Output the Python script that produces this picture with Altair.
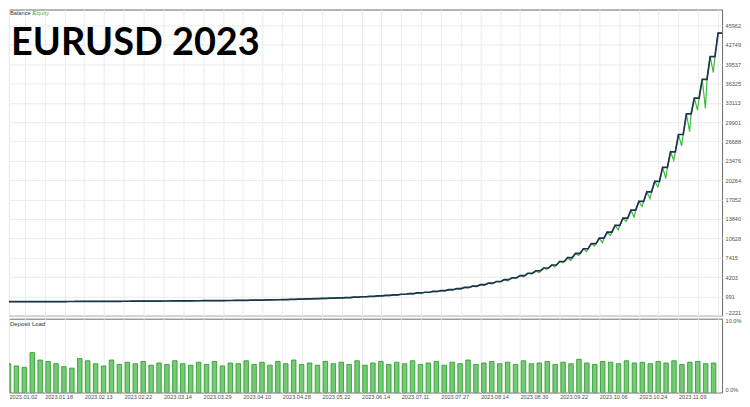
import altair as alt
import pandas as pd

title_text = "EURUSD 2023"
legend_balance = "Balance /"
legend_equity = "Equity"
load_title = "Deposit Load"

y_ticks = [45962, 42749, 39537, 36325, 33113, 29901, 26688, 23476, 20264,
           17052, 13840, 10628, 7415, 4203, 991, -2221]
load_ticks = [0, 10]

# date labels under the deal axis (the one after 2023.11.09 is cut off by the window edge)
date_labels = ["2023.01.02", "2023.01.18", "2023.02.13", "2023.02.22", "2023.03.14",
               "2023.03.29", "2023.04.10", "2023.04.28", "2023.05.22", "2023.06.14",
               "2023.07.11", "2023.07.27", "2023.08.14", "2023.08.30", "2023.09.22",
               "2023.10.06", "2023.10.24", "2023.11.09"]

# balance after each trade cycle
balance = [100, 104, 107, 112, 116, 121, 125, 131, 136, 142,
           147, 153, 160, 166, 173, 180, 188, 195, 203, 212,
           220, 229, 239, 249, 259, 270, 281, 292, 304, 317,
           330, 350, 374, 401, 428, 459, 491, 526, 563, 603,
           646, 692, 741, 794, 854, 921, 992, 1069, 1152, 1241,
           1337, 1441, 1553, 1673, 1803, 1943, 2094, 2277, 2475, 2690,
           2924, 3178, 3455, 3755, 4082, 4437, 4823, 5243, 5699, 6195,
           6780, 7422, 8125, 8894, 9737, 10658, 11667, 12772, 13981, 15305,
           16753, 18340, 20076, 22395, 24982, 27868, 31300, 33900, 37000, 40800,
           44700]

# floating drawdown of equity within each cycle, % of balance
equity_dip_pct = [1.5, 2.0, 1.2, 2.5, 1.8, 3.0, 1.4, 2.2, 1.9, 2.8,
                  1.6, 2.4, 3.1, 1.7, 2.0, 2.6, 1.3, 2.9, 2.1, 1.8,
                  2.7, 1.5, 3.2, 2.0, 2.4, 1.9, 2.8, 1.6, 3.0, 2.2,
                  2.5, 3.4, 2.1, 2.9, 1.8, 3.6, 2.4, 3.0, 2.2, 3.8,
                  2.6, 3.3, 2.0, 4.1, 2.8, 3.5, 2.3, 4.4, 3.0, 3.7,
                  2.5, 4.6, 3.1, 3.9, 2.7, 4.8, 3.4, 4.0, 2.9, 5.2,
                  3.6, 4.3, 3.0, 5.5, 3.8, 4.6, 3.2, 6.0, 4.1, 5.0,
                  3.5, 6.4, 4.4, 5.3, 3.8, 7.0, 4.7, 5.8, 4.0, 7.5,
                  5.1, 6.2, 4.5, 8.2, 5.6, 6.8, 9.5, 5.9, 13.0, 6.5]

# deposit load per cycle, %
deposit_load = [3.9, 3.6, 3.4, 5.4, 4.4, 4.2, 3.9, 3.5, 3.3, 4.6,
                4.3, 3.9, 3.6, 4.4, 3.8, 4.1, 3.9, 4.2, 3.7, 4.0,
                3.8, 4.3, 3.9, 3.7, 4.1, 3.8, 4.2, 3.6, 4.0, 3.9,
                4.3, 3.8, 4.1, 3.7, 4.2, 3.9, 4.4, 3.8, 4.0, 3.7,
                4.2, 3.9, 4.1, 3.8, 4.3, 3.7, 4.0, 4.2, 3.8, 4.1,
                3.9, 4.3, 3.8, 4.0, 4.2, 3.7, 4.1, 3.9, 4.4, 3.8,
                4.0, 4.2, 3.9, 4.1, 3.8, 4.3, 3.9, 4.0, 4.2, 3.8,
                4.1, 3.9, 4.5, 4.0, 3.8, 4.2, 4.1, 3.9, 4.3, 4.0,
                4.1, 3.9, 4.2, 4.0, 4.3, 3.8, 4.1, 4.2, 3.9, 4.0]

n = len(balance)
x_start = 0.5
x_end = n - 0.5

# balance: flat while a cycle is open, rises when it closes
bal_rows = []
for i, b in enumerate(balance):
    bal_rows.append({"x": i, "v": b})
    if i < n - 1:
        bal_rows.append({"x": i + 0.6, "v": b})
bal_rows.append({"x": x_end, "v": balance[-1]})
for k, r in enumerate(bal_rows):
    r["o"] = k
bal_df = pd.DataFrame(bal_rows)

eq_rows = []
for i, b in enumerate(balance):
    eq_rows.append({"x": i, "v": b})
    if i < n - 1:
        eq_rows.append({"x": i + 0.4, "v": b * (1 - equity_dip_pct[i] / 100.0)})
        eq_rows.append({"x": i + 0.6, "v": b})
eq_rows.append({"x": x_end, "v": balance[-1]})
for k, r in enumerate(eq_rows):
    r["o"] = k
eq_df = pd.DataFrame(eq_rows)

load_df = pd.DataFrame({
    "x0": [i + 0.15 for i in range(len(deposit_load))],
    "x1": [i + 0.72 for i in range(len(deposit_load))],
    "load": deposit_load,
})

grid_values = [x_start] + [2.5 * k for k in range(1, int(x_end / 2.5) + 1)]
labels_js = "[" + ",".join("'" + d + "'" for d in date_labels) + "]"
n_labels = len(date_labels)
label_expr = ("datum.value < 1 ? " + labels_js + "[0] : ((datum.value % 5 == 0 && datum.value / 5 < "
              + str(n_labels) + ") ? " + labels_js + "[round(datum.value / 5)] : '')")

FONT = "Liberation Sans"
GRID = "#ebebeb"
LABEL_COLOR = "#505050"
W = 715
H_MAIN = 307
H_LOAD = 74

xs = alt.Scale(domain=[x_start, x_end], nice=False, zero=False)
ys = alt.Scale(domain=[-2221, 48612], nice=False, zero=False)

x_axis_main = alt.Axis(values=grid_values, labels=False, ticks=False,
                       domain=False, grid=True, gridColor=GRID, title=None)
y_axis_main = alt.Axis(orient="right", values=y_ticks, format="d",
                       labelFlush=True, labelOverlap=False, labelSeparation=0,
                       ticks=False, domain=False, labelPadding=3, labelFontSize=5.6,
                       labelColor=LABEL_COLOR, labelFont=FONT, grid=True,
                       gridColor=GRID, title=None)

equity_line = alt.Chart(eq_df).mark_line(color="#3dbb3d", strokeWidth=1.2, clip=True).encode(
    x=alt.X("x:Q", scale=xs, axis=x_axis_main),
    y=alt.Y("v:Q", scale=ys, axis=y_axis_main),
    order="o:Q")
balance_line = alt.Chart(bal_df).mark_line(color="#1f3350", strokeWidth=1.7, clip=True).encode(
    x=alt.X("x:Q", scale=xs, axis=x_axis_main),
    y=alt.Y("v:Q", scale=ys, axis=y_axis_main),
    order="o:Q")

title_mark = alt.Chart(pd.DataFrame({"t": [title_text]})).mark_text(
    font="Lato", fontWeight="bold", fontSize=38, color="#000000", align="left", baseline="alphabetic"
).encode(text="t:N", x=alt.value(2), y=alt.value(46))

leg1 = alt.Chart(pd.DataFrame({"t": [legend_balance]})).mark_text(
    font=FONT, fontSize=5.8, color="#333333", align="left", baseline="middle"
).encode(text="t:N", x=alt.value(1), y=alt.value(3.5))
leg2 = alt.Chart(pd.DataFrame({"t": [legend_equity]})).mark_text(
    font=FONT, fontSize=5.8, color="#55bb55", align="left", baseline="middle"
).encode(text="t:N", x=alt.value(24), y=alt.value(3.5))

main = alt.layer(equity_line, balance_line, title_mark, leg1, leg2).properties(width=W, height=H_MAIN)

bars = alt.Chart(load_df).mark_bar(fill="#72cc72", stroke="#2a962a", strokeWidth=0.8, clip=True).encode(
    x=alt.X("x0:Q", scale=xs, axis=alt.Axis(values=grid_values, labelExpr=label_expr, labelAlign="left",
                                          labelBaseline="top", labelPadding=2, labelFlush=False,
                                          labelOverlap=False, labelFontSize=5.6, labelColor=LABEL_COLOR,
                                          labelFont=FONT, ticks=False, domain=False, grid=True,
                                          gridColor=GRID, title=None)),
    x2="x1:Q",
    y=alt.Y("load:Q", scale=alt.Scale(domain=[0, 10], nice=False),
            axis=alt.Axis(orient="right", values=load_ticks,
                          labelExpr="format(datum.value, '.1f') + '%'", labelFlush=True,
                          labelOverlap=False, ticks=False, domain=False, grid=False, labelPadding=3,
                          labelFontSize=5.6, labelColor=LABEL_COLOR, labelFont=FONT, title=None)),
    y2=alt.datum(0),
)
load_label = alt.Chart(pd.DataFrame({"t": [load_title]})).mark_text(
    font=FONT, fontSize=6, color="#333333", align="left", baseline="middle"
).encode(text="t:N", x=alt.value(1), y=alt.value(5))

bottom = alt.layer(bars, load_label).properties(width=W, height=H_LOAD)

chart = alt.vconcat(main, bottom, spacing=0).properties(
    padding=0,
    background="#ffffff",
).configure_view(
    stroke="#6a6a6a", strokeWidth=1
).configure_axis(
    labelOverlap=False
)

chart.save("out.html", embed_options={"renderer": "svg", "actions": False})
